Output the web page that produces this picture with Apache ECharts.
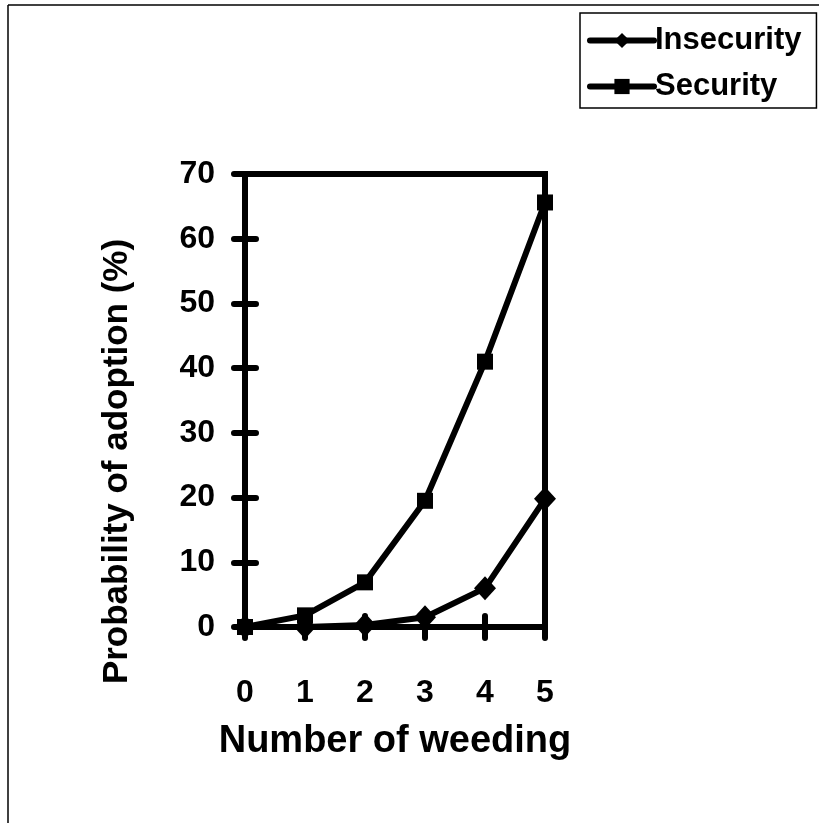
<!DOCTYPE html>
<html>
<head>
<meta charset="utf-8">
<script src="https://cdn.jsdelivr.net/npm/echarts@6/dist/echarts.min.js"></script>
<style>
html,body{margin:0;padding:0;background:#fff;}
#chart{width:819px;height:823px;}
</style>
</head>
<body>
<div id="chart"></div>
<script>
const categories = ['0','1','2','3','4','5'];
const insecurity = [0, 0, 0.3, 1.5, 6.0, 19.8];
const security = [0, 1.8, 6.9, 19.5, 41.0, 65.6];
const yTicks = {min: 0, max: 70, interval: 10};
const FONT = 'Liberation Sans';

const chart = echarts.init(document.getElementById('chart'), null, {renderer: 'canvas'});
const axisTextStyle = {color: '#000', fontFamily: FONT, fontWeight: 'bold', fontSize: 32};
const tickStyle = {color: '#000', width: 6, cap: 'round'};

chart.setOption({
  animation: false,
  backgroundColor: '#fff',
  graphic: [
    {type: 'line', shape: {x1: 8, y1: 5, x2: 819, y2: 5}, style: {stroke: '#000', lineWidth: 1.5}},
    {type: 'line', shape: {x1: 8, y1: 5, x2: 8, y2: 823}, style: {stroke: '#000', lineWidth: 1.5}}
  ],
  legend: {
    left: 580, top: 13,
    orient: 'vertical',
    itemWidth: 64, itemHeight: 19, itemGap: 15,
    padding: [12, 15, 6, 7],
    borderColor: '#000', borderWidth: 1.5,
    lineStyle: {width: 6, cap: 'round'},
    textStyle: {color: '#000', fontFamily: FONT, fontWeight: 'bold', fontSize: 31, padding: [0, 0, 0, -4]},
    data: ['Insecurity', 'Security']
  },
  grid: {left: 245, top: 174, right: 274, bottom: 196, show: true, borderColor: '#000', borderWidth: 6},
  xAxis: [{
    type: 'category', data: categories, boundaryGap: false,
    name: 'Number of weeding', nameLocation: 'middle', nameGap: 96,
    nameTextStyle: Object.assign({}, axisTextStyle, {fontSize: 38}),
    axisLine: {lineStyle: tickStyle},
    axisTick: {alignWithLabel: true, length: 11, lineStyle: tickStyle},
    axisLabel: Object.assign({margin: 50}, axisTextStyle),
    splitLine: {show: false}
  }, {
    type: 'category', data: categories, boundaryGap: false, position: 'bottom',
    axisLine: {show: false},
    axisTick: {inside: true, length: 11, lineStyle: tickStyle},
    axisLabel: {show: false}, splitLine: {show: false}
  }],
  yAxis: [{
    type: 'value', min: yTicks.min, max: yTicks.max, interval: yTicks.interval,
    name: 'Probability of adoption (%)', nameLocation: 'middle', nameGap: 110,
    nameTextStyle: Object.assign({}, axisTextStyle, {fontSize: 35, padding: [0, 122, 0, 0]}),
    axisLine: {show: true, lineStyle: tickStyle},
    axisTick: {show: true, length: 11, lineStyle: tickStyle},
    axisLabel: Object.assign({margin: 30, padding: [8, 0, 0, 0]}, axisTextStyle),
    splitLine: {show: false}
  }, {
    type: 'value', min: yTicks.min, max: yTicks.max, interval: yTicks.interval, position: 'left',
    axisLine: {show: false},
    axisTick: {show: true, inside: true, length: 11, lineStyle: tickStyle},
    axisLabel: {show: false}, splitLine: {show: false}
  }],
  series: [{
    name: 'Insecurity', type: 'line', data: insecurity,
    symbol: 'diamond', symbolSize: [22, 24], showAllSymbol: true,
    lineStyle: {color: '#000', width: 6}, itemStyle: {color: '#000'}, z: 3
  }, {
    name: 'Security', type: 'line', data: security,
    symbol: 'rect', symbolSize: 16, showAllSymbol: true,
    lineStyle: {color: '#000', width: 6}, itemStyle: {color: '#000'}, z: 2
  }]
});
</script>
</body>
</html>
